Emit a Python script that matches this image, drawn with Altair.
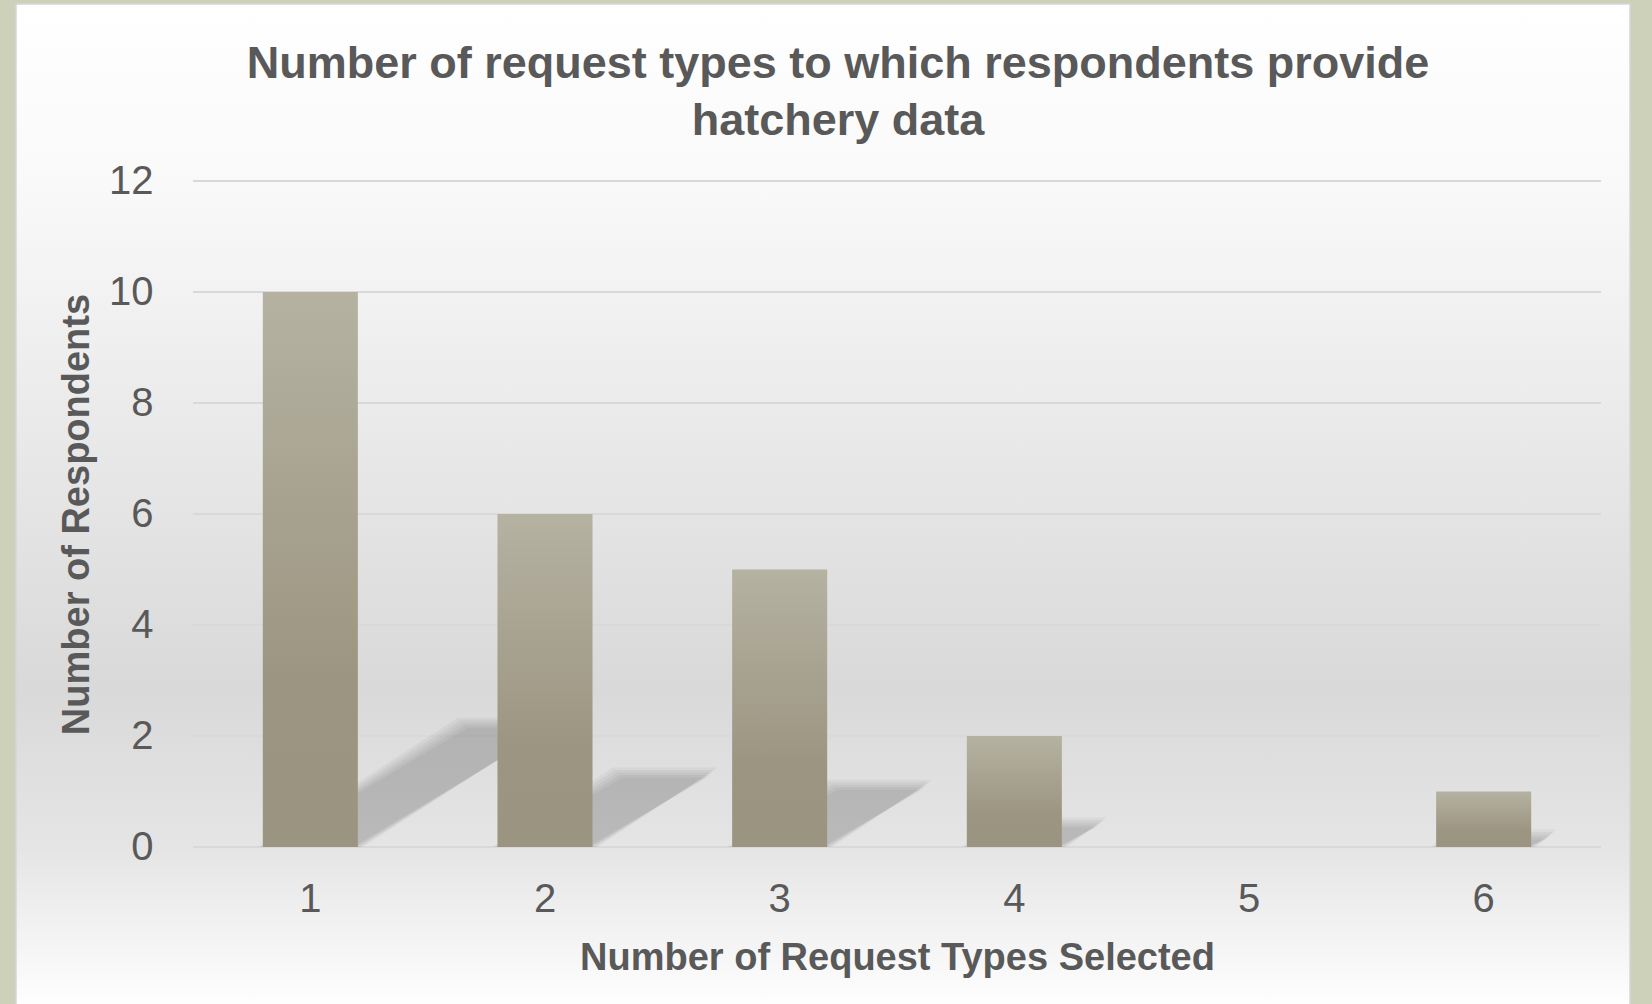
import altair as alt
import pandas as pd

# Survey results: how many request types each respondent provides hatchery data for
categories = ["1", "2", "3", "4", "5", "6"]
respondents = [10, 6, 5, 2, 0, 1]
y_ticks = [0, 2, 4, 6, 8, 10, 12]

title_lines = ["Number of request types to which respondents provide", "hatchery data"]
x_title = "Number of Request Types Selected"
y_title = "Number of Respondents"

# Layout
PLOT_W, PLOT_H = 1408, 666
PAD = {"left": 193, "top": 181, "right": 51, "bottom": 157}
FONT = "Liberation Sans"
TEXT_COLOR = "#595959"
BAR_FRACTION = 0.405
Y_MAX = 12

# Perspective shadow cast by each bar (per unit of bar value)
SHADOW_RISE = 0.224          # in y units
SHADOW_RUN = 0.0852          # in category-step units
STEP_PX = PLOT_W / len(categories)
UNIT_PX = PLOT_H / Y_MAX

bars = pd.DataFrame({"cat": categories, "n": respondents})
grid = pd.DataFrame({"tick": y_ticks})

# Several slightly offset translucent copies give the shadow a soft edge
half = BAR_FRACTION / 2
shadow_rows = []
for i, (c, v) in enumerate(zip(categories, respondents)):
    if v <= 0:
        continue
    for k, e in enumerate([-5, -2.5, 0, 2.5, 5]):
        ex, ey = e / STEP_PX, e / UNIT_PX
        left, right = i + 0.5 - half - ex, i + 0.5 + half + ex
        run = v * SHADOW_RUN
        shadow_rows.append({"key": f"{c}-{k}", "sy": 0.0, "sx": left, "sx2": right})
        shadow_rows.append({"key": f"{c}-{k}", "sy": v * SHADOW_RISE + ey,
                            "sx": left + run, "sx2": right + run})
shadows = pd.DataFrame(shadow_rows)

one = pd.DataFrame({"a": [0]})

y_scale = alt.Scale(domain=[0, Y_MAX], nice=False, zero=True)
y_axis = alt.Axis(
    title=y_title, values=y_ticks, domain=False, ticks=False, grid=False, zindex=2,
    labelFont=FONT, labelFontSize=40, labelColor=TEXT_COLOR, labelPadding=40,
    titleFont=FONT, titleFontSize=38, titleFontWeight="bold", titleColor=TEXT_COLOR,
    titleBaseline="alphabetic", titleAngle=-90, titleX=-105, titleY=PLOT_H / 2,
)

# Panel background with a soft vertical gradient
panel = alt.Chart(one).mark_rect(
    fill=alt.Gradient(
        gradient="linear", x1=0, x2=0, y1=0, y2=1,
        stops=[
            alt.GradientStop(color="#ffffff", offset=0),
            alt.GradientStop(color="#f9f9f9", offset=0.18),
            alt.GradientStop(color="#d9d9d9", offset=0.68),
            alt.GradientStop(color="#e5e5e5", offset=0.84),
            alt.GradientStop(color="#ffffff", offset=1),
        ],
    ),
    stroke="#d6d6d6", strokeWidth=1.5,
).encode(
    x=alt.value(16 - PAD["left"]), x2=alt.value(1630 - PAD["left"]),
    y=alt.value(4 - PAD["top"]), y2=alt.value(1010 - PAD["top"]),
)

gridlines = alt.Chart(grid).mark_rule(color="#d9d9d9", strokeWidth=2).encode(
    y=alt.Y("tick:Q", scale=y_scale, axis=y_axis),
    x=alt.value(0), x2=alt.value(PLOT_W),
)

shadow_layer = alt.Chart(shadows).mark_area(
    orient="horizontal", color="#000000", opacity=0.04
).encode(
    y=alt.Y("sy:Q", scale=y_scale, axis=y_axis),
    x=alt.X("sx:Q", scale=alt.Scale(domain=[0, len(categories)], nice=False, zero=False), axis=None),
    x2="sx2:Q",
    detail="key:N",
)

bar_layer = alt.Chart(bars).mark_bar(
    color=alt.Gradient(
        gradient="linear", x1=0, x2=0, y1=0, y2=1,
        stops=[
            alt.GradientStop(color="#b5b2a2", offset=0),
            alt.GradientStop(color="#9c9581", offset=0.7),
            alt.GradientStop(color="#9b9480", offset=1),
        ],
    )
).encode(
    x=alt.X(
        "cat:N", sort=categories,
        scale=alt.Scale(paddingInner=1 - BAR_FRACTION, paddingOuter=(1 - BAR_FRACTION) / 2),
        axis=alt.Axis(
            title=x_title, labelAngle=0, domain=False, ticks=False, grid=False, zindex=2,
            labelFont=FONT, labelFontSize=40, labelColor=TEXT_COLOR, labelPadding=32,
            titleFont=FONT, titleFontSize=38, titleFontWeight="bold", titleColor=TEXT_COLOR,
            titleBaseline="alphabetic", titleY=122, titleX=PLOT_W / 2,
        ),
    ),
    y=alt.Y("n:Q", scale=y_scale, axis=y_axis),
)

title_layer = alt.Chart(one).mark_text(
    text=title_lines, font=FONT, fontSize=45, fontWeight="bold", color=TEXT_COLOR,
    align="center", baseline="top", lineHeight=57,
).encode(x=alt.value(838 - PAD["left"]), y=alt.value(41.5 - PAD["top"]))

chart = (
    alt.layer(panel, gridlines, shadow_layer, bar_layer, title_layer)
    .resolve_scale(x="independent")
    .properties(
        width=PLOT_W, height=PLOT_H,
        autosize=alt.AutoSizeParams(type="none"),
        padding=PAD,
        background="#cdd1ba",
    )
    .configure_view(stroke=None)
)

chart.save("out.html", embed_options={"renderer": "svg", "actions": False})
